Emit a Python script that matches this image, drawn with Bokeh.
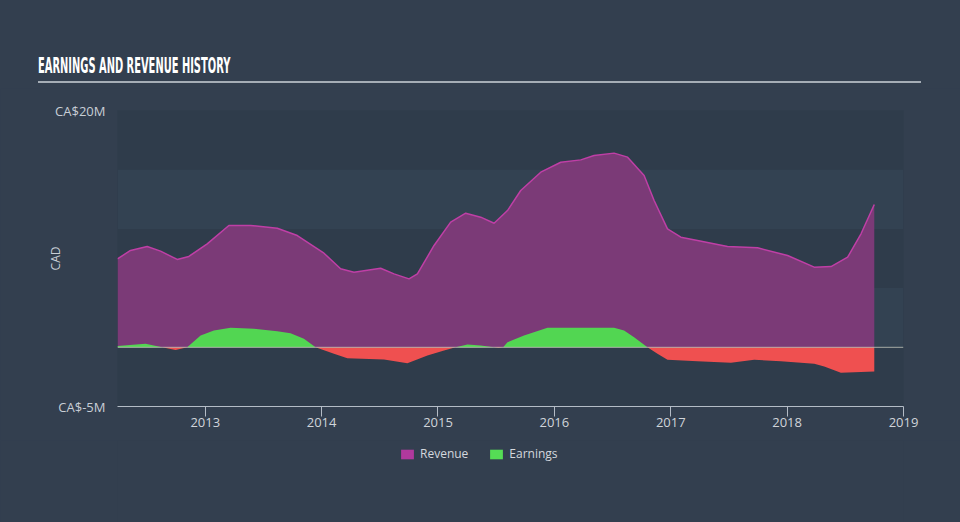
from bokeh.plotting import figure
from bokeh.models import (FixedTicker, Legend, LegendItem, Span, Div)
from bokeh.layouts import column
from bokeh.embed import file_html
from bokeh.resources import INLINE

# ---------------- data (CA$ millions, decimal years) ----------------
rev_t = [2012.246, 2012.358, 2012.501, 2012.616, 2012.759, 2012.859, 2013.017,
         2013.203, 2013.390, 2013.619, 2013.791, 2014.020, 2014.163, 2014.278,
         2014.507, 2014.622, 2014.751, 2014.823, 2014.966, 2015.109, 2015.238,
         2015.367, 2015.482, 2015.597, 2015.711, 2015.883, 2016.055, 2016.227,
         2016.341, 2016.513, 2016.629, 2016.771, 2016.857, 2016.972, 2017.087,
         2017.230, 2017.488, 2017.746, 2018.004, 2018.233, 2018.377, 2018.520,
         2018.635, 2018.749]
revenue = [7.47, 8.18, 8.51, 8.12, 7.42, 7.67, 8.74,
           10.29, 10.29, 10.06, 9.44, 7.95, 6.63, 6.34,
           6.68, 6.20, 5.78, 6.20, 8.60, 10.57, 11.33,
           10.99, 10.48, 11.55, 13.24, 14.79, 15.63, 15.83,
           16.20, 16.40, 16.06, 14.51, 12.40, 10.00, 9.30,
           9.02, 8.51, 8.40, 7.75, 6.77, 6.82, 7.61,
           9.59, 12.06]

earn_t = [2012.246, 2012.487, 2012.630, 2012.745, 2012.845, 2012.960, 2013.074,
          2013.218, 2013.418, 2013.619, 2013.733, 2013.848, 2013.948, 2014.106,
          2014.221, 2014.536, 2014.737, 2014.909, 2015.052, 2015.152, 2015.253,
          2015.367, 2015.480, 2015.520, 2015.560, 2015.597, 2015.739, 2015.941,
          2016.513, 2016.599, 2016.685, 2016.800, 2016.886, 2016.972, 2017.230,
          2017.517, 2017.717, 2017.946, 2018.233, 2018.319, 2018.462, 2018.749]
earnings = [0.10, 0.30, 0.00, -0.22, 0.00, 1.00, 1.42,
            1.65, 1.56, 1.36, 1.19, 0.72, 0.00, -0.55,
            -0.92, -1.03, -1.34, -0.69, -0.27, 0.00, 0.24,
            0.15, 0.00, -0.05, 0.00, 0.43, 1.00, 1.65,
            1.65, 1.42, 0.85, 0.00, -0.55, -1.06, -1.17,
            -1.31, -1.06, -1.17, -1.39, -1.62, -2.16, -2.04]

x_ticks = [2013, 2014, 2015, 2016, 2017, 2018, 2019]
x_labels = ["2013", "2014", "2015", "2016", "2017", "2018", "2019"]
y_ticks = [-5, 20]
y_labels = ["CA$-5M", "CA$20M"]
band_bottom = [10, 0]
band_top = [15, 5]
series_names = ["Revenue", "Earnings"]

X0, X1 = 2012.246, 2019.0
BG = "#333f4f"
FONT = "Open Sans"
NAN = float("nan")

earn_pos = [max(v, 0) for v in earnings]
earn_neg = [min(v, 0) for v in earnings]

# ---------------- title block ----------------
title_html = (
    '<div style="position:relative;width:960px;height:88px;">'
    '<div style="position:absolute;left:38px;top:55px;font-family:\'Liberation Sans Narrow\',\'DejaVu Sans Condensed\',sans-serif;'
    'font-size:22px;line-height:22px;font-weight:bold;color:#ffffff;white-space:nowrap;'
    'transform:scaleX(0.5);transform-origin:left top;">EARNINGS AND REVENUE HISTORY</div>'
    '<div style="position:absolute;left:38px;top:81px;width:883px;height:2px;background:#a5adb6;"></div>'
    '</div>'
)
title = Div(text=title_html, width=960, height=88, margin=0,
            styles={"background-color": BG})

# ---------------- main figure ----------------
p = figure(width=960, height=352, x_range=(X0, X1), y_range=(-5, 20),
           output_backend="svg", toolbar_location=None,
           min_border_left=117, min_border_right=57,
           min_border_top=22, min_border_bottom=34,
           background_fill_color="#2f3c4b", border_fill_color=BG)
p.outline_line_color = None
p.margin = 0
p.styles = {"background-color": BG}
p.xgrid.visible = False
p.ygrid.visible = False

p.quad(left=X0, right=X1, bottom=band_bottom, top=band_top,
       fill_color="#334252", line_color=None)

p.varea(x=rev_t, y1=0, y2=revenue, fill_color="#7b3a77")
p.line(x=rev_t, y=revenue, line_color="#bf3fa6", line_width=1.5)

p.varea(x=earn_t, y1=0, y2=earn_pos, fill_color="#52d652")
p.varea(x=earn_t, y1=0, y2=earn_neg, fill_color="#ef5050")

p.add_layout(Span(location=0, dimension="width", line_color="#c4c6bc",
                  line_width=1, line_alpha=0.8))

# axes
p.xaxis.ticker = FixedTicker(ticks=x_ticks)
p.xaxis.major_label_overrides = dict(zip(x_ticks, x_labels))
p.xaxis.axis_line_color = "#b4bcc6"
p.xaxis.major_tick_line_color = "#b4bcc6"
p.xaxis.major_tick_in = 0
p.xaxis.major_tick_out = 10
p.xaxis.minor_tick_line_color = None
p.xaxis.major_label_text_color = "#d0d4da"
p.xaxis.major_label_text_font = FONT
p.xaxis.major_label_text_font_size = "13px"
p.xaxis.major_label_standoff = 1

p.yaxis.ticker = FixedTicker(ticks=y_ticks)
p.yaxis.major_label_overrides = dict(zip(y_ticks, y_labels))
p.yaxis.axis_line_color = None
p.yaxis.major_tick_line_color = None
p.yaxis.minor_tick_line_color = None
p.yaxis.major_label_standoff = 6
p.yaxis.major_label_text_color = "#c8ced6"
p.yaxis.major_label_text_font = FONT
p.yaxis.major_label_text_font_size = "13px"
p.yaxis.axis_label = "CAD"
p.yaxis.axis_label_text_font = FONT
p.yaxis.axis_label_text_font_style = "normal"
p.yaxis.axis_label_text_font_size = "12px"
p.yaxis.axis_label_text_color = "#c8ced6"
p.yaxis.axis_label_standoff = -12

# ---------------- legend strip ----------------
lg = figure(width=960, height=82, x_range=(0, 1), y_range=(0, 1),
            output_backend="svg", toolbar_location=None,
            min_border_left=0, min_border_right=0, min_border_top=0,
            min_border_bottom=0, background_fill_color=BG, border_fill_color=BG)
lg.outline_line_color = None
lg.margin = 0
lg.styles = {"background-color": BG}
lg.axis.visible = False
lg.grid.visible = False
# legend-only renderers (no visible data)
r_rev = lg.quad(left=[NAN], right=[NAN], bottom=[NAN], top=[NAN],
                fill_color="#b0399d", line_color=None)
r_earn = lg.quad(left=[NAN], right=[NAN], bottom=[NAN], top=[NAN],
                 fill_color="#55dd55", line_color=None)
legend = Legend(items=[LegendItem(label=series_names[0], renderers=[r_rev]),
                       LegendItem(label=series_names[1], renderers=[r_earn])],
                location=(282, 60), orientation="horizontal",
                background_fill_alpha=0, border_line_color=None,
                label_text_color="#d4d8de", label_text_font=FONT,
                label_text_font_size="12px", glyph_width=16, glyph_height=12,
                label_height=12, spacing=20, padding=0, margin=0, label_standoff=5)
lg.add_layout(legend, "center")

layout = column(title, p, lg, spacing=0)
layout.margin = 0
layout.styles = {"background-color": BG}
open("out.html", "w").write(file_html(layout, INLINE))
